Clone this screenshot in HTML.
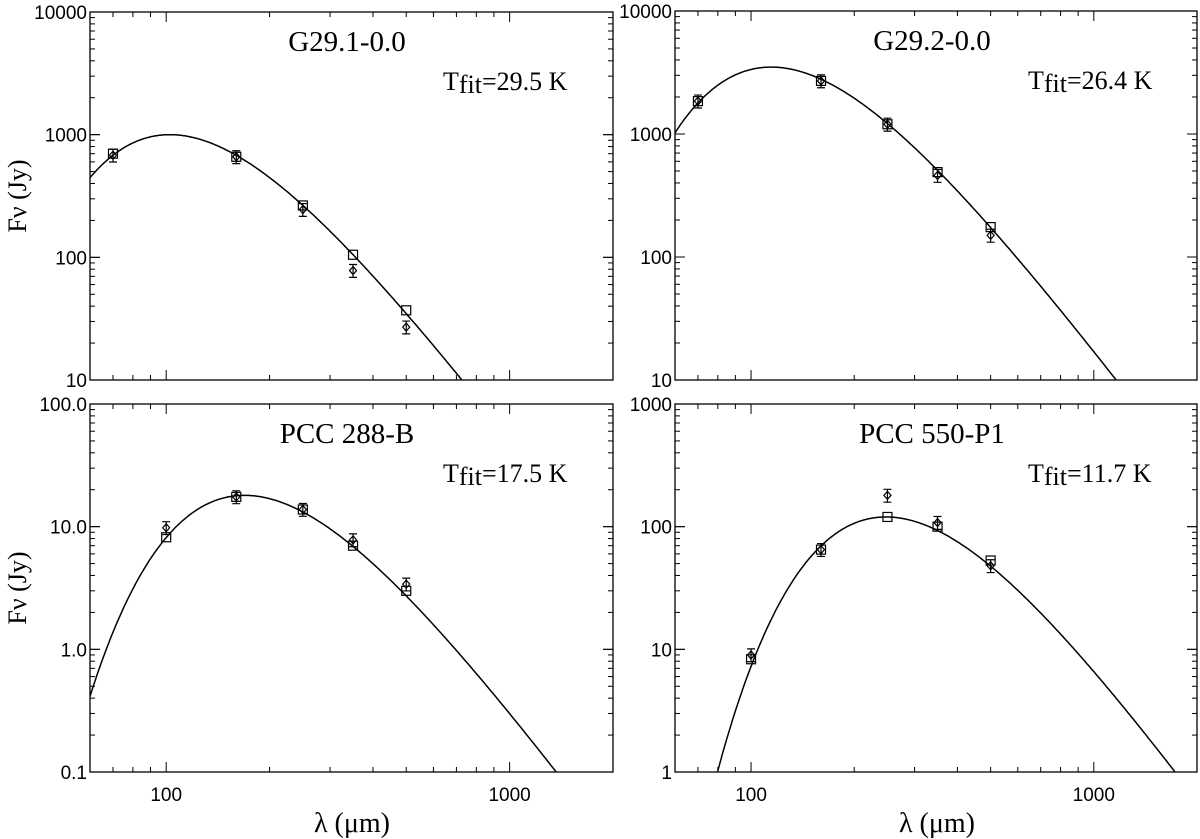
<!DOCTYPE html>
<html><head><meta charset="utf-8"><style>
body{margin:0;background:#fff;}
svg{display:block;}
.tk{font-family:"Liberation Sans",sans-serif;font-size:19px;fill:#000;}
.sr{font-family:"Liberation Serif",serif;fill:#000;}
</style></head><body>
<svg id="chart" width="1200" height="839" viewBox="0 0 1200 839"></svg>
<script>
// ---- data ----
const panelTitles = ["G29.1-0.0","G29.2-0.0","PCC 288-B","PCC 550-P1"];
const fitTemps = [29.5, 26.4, 17.5, 11.7];
const fitTempLabels = ["29.5","26.4","17.5","11.7"];
const fitPeaks = [1000, 3500, 18, 120];
const fitBetas = [1.8, 1.8, 1.9, 2.0];
const yRanges = [[10,10000],[10,10000],[0.1,100],[1,1000]];
const yTickLabels = [["10","100","1000","10000"],["10","100","1000","10000"],["0.1","1.0","10.0","100.0"],["1","10","100","1000"]];
const xRange = [60, 2000];
const xTickLabels = ["100","1000"];
const wavelengths = [[70,160,250,350,500],[70,160,250,350,500],[100,160,250,350,500],[100,160,250,350,500]];
const squareFlux = [[700,660,265,105,37],[1850,2700,1200,490,175],[8.2,17.5,13.8,7.0,3.0],[8.3,65,120,100,53]];
const diamondFlux = [[680,660,245,78,27],[1850,2700,1200,460,150],[9.8,17.5,13.8,7.8,3.4],[9.0,65,180,108,48]];
const errFrac = 0.12;

const NS="http://www.w3.org/2000/svg";
const svg=document.getElementById('chart');
function mk(tag,attrs,parent){const e=document.createElementNS(NS,tag);for(const k in attrs)e.setAttribute(k,attrs[k]);(parent||svg).appendChild(e);return e;}
const boxes=[{x0:90,x1:613,y0:12,y1:380},{x0:675,x1:1197,y0:11,y1:380},{x0:90,x1:613,y0:404,y1:772},{x0:675,x1:1197,y0:404,y1:772}];
const L10=Math.log10;
function greybody(l,T,beta){const x=14388/(l*T);return Math.pow(x,3+beta)/(Math.exp(x)-1);}

for(let p=0;p<4;p++){
  const b=boxes[p];const yr=yRanges[p];
  const g=mk('g',{});
  
  
  const X=l=>b.x0+(L10(l)-L10(xRange[0]))/(L10(xRange[1])-L10(xRange[0]))*(b.x1-b.x0);
  const Y=v=>b.y1-(L10(v)-L10(yr[0]))/(L10(yr[1])-L10(yr[0]))*(b.y1-b.y0);
  const frame=mk('rect',{x:b.x0,y:b.y0,width:b.x1-b.x0,height:b.y1-b.y0,fill:'none',stroke:'#000','stroke-width':1.3},g);
  
  
  for(let d=10;d<=1000;d*=10)for(let m=1;m<10;m++){const v=d*m;if(v<xRange[0]||v>xRange[1])continue;const x=X(v);const len=m===1?10:5;
    mk('line',{x1:x,x2:x,y1:b.y1,y2:b.y1-len,stroke:'#000'},g);mk('line',{x1:x,x2:x,y1:b.y0,y2:b.y0+len,stroke:'#000'},g);}
  for(let d=yr[0];d<yr[1]*0.999;d*=10)for(let m=1;m<=10;m++){const v=d*m;const y=Y(v);const len=(m===1||m===10)?10:5;
    mk('line',{x1:b.x0,x2:b.x0+len,y1:y,y2:y,stroke:'#000'},g);mk('line',{x1:b.x1,x2:b.x1-len,y1:y,y2:y,stroke:'#000'},g);}
  yTickLabels[p].forEach((t,i)=>{const v=yr[0]*Math.pow(10,i);const e=mk('text',{x:b.x0-3,y:Y(v)+7,'text-anchor':'end',class:'tk'},g);e.textContent=t;
    
    });
  if(p>=2){xTickLabels.forEach(t=>{const e=mk('text',{x:X(+t),y:b.y1+29,'text-anchor':'middle',class:'tk'},g);e.textContent=t;
    
    });}
  let best=0;for(let l=30;l<3000;l*=1.005){const v=greybody(l,fitTemps[p],fitBetas[p]);if(v>best){best=v;}}
  const A=fitPeaks[p]/best;let d='';
  for(let l=xRange[0];l<=xRange[1];l*=1.004){const v=A*greybody(l,fitTemps[p],fitBetas[p]);if(v<yr[0]||v>yr[1])continue;d+=(d?'L':'M')+X(l).toFixed(1)+','+Y(v).toFixed(1);}
  const c=mk('path',{d:d,fill:'none',stroke:'#000','stroke-width':1.5},g);
  
  
  wavelengths[p].forEach((l,i)=>{
    const x=X(l);
    const ys=Y(squareFlux[p][i]);
    const s=mk('rect',{x:x-4.5,y:ys-4.5,width:9,height:9,fill:'none',stroke:'#000','stroke-width':1.2},g);
    
    
    const v=diamondFlux[p][i];const yd=Y(v);const yt=Y(v*(1+errFrac)),yb=Y(v*(1-errFrac));
    const e=mk('path',{d:`M${x},${yt}L${x},${yb}M${x-4},${yt}L${x+4},${yt}M${x-4},${yb}L${x+4},${yb}`,stroke:'#000','stroke-width':1.2,fill:'none'},g);
    
    
    const dm=mk('path',{d:`M${x},${yd-4}L${x+3.5},${yd}L${x},${yd+4}L${x-3.5},${yd}Z`,fill:'none',stroke:'#000','stroke-width':1.2},g);
    
    
  });
  const tt=mk('text',{x:b.x0+257,y:b.y0+39,'text-anchor':'middle',class:'sr','font-size':29},g);tt.textContent=panelTitles[p];
  
  
  const tf=mk('text',{x:b.x0+353,y:b.y0+78,class:'sr','font-size':26},g);
  
  
  tf.innerHTML='T<tspan dy="3">fit</tspan><tspan dy="-3">='+fitTempLabels[p]+' K</tspan>';
}
[196,588].forEach(y=>{const e=mk('text',{transform:`translate(26,${y}) rotate(-90)`,'text-anchor':'middle',class:'sr','font-size':26});e.textContent='Fν (Jy)';
  
  });
[352,937].forEach(x=>{const e=mk('text',{x:x,y:832,'text-anchor':'middle',class:'sr','font-size':28});e.textContent='λ (μm)';
  
  });
</script>
</body></html>
